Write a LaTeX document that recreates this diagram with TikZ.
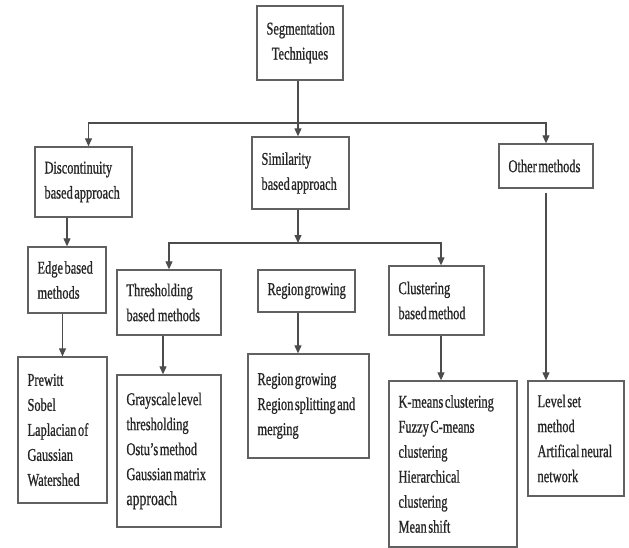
\documentclass[tikz,border=0pt]{standalone}
\usepackage{fontspec}
\setmainfont[FakeStretch=0.69, FakeBold=0.8, WordSpace=0.5]{Liberation Serif}
\usetikzlibrary{arrows.meta}
\newcommand\boxfont{\fontsize{18}{25}\selectfont
  \hyphenpenalty=10000\relax\exhyphenpenalty=10000\relax}
\begin{document}
\begin{tikzpicture}[x=1pt,y=-1pt,
  box/.style={draw=black!62, line width=1.3pt, fill=white, align=flush left,
    inner xsep=9.5pt, inner ysep=0pt, font=\boxfont, text=black!85},
  link/.style={draw=black!70, line width=1.1pt},
  arr/.style={link, -{Triangle[length=8pt,width=7pt]}}
]
\useasboundingbox (0,0) rectangle (629,548);

% top level
\node[box, align=flush center, text width=67pt, minimum height=74pt] (seg) at (300,43) {Segmentation\\Techniques};

% second level
\node[box, text width=78pt, minimum height=70pt] (disc) at (83.5,182) {Discontinuity\\based~approach};
\node[box, text width=78pt, minimum height=72pt] (sim) at (300.5,173) {Similarity\\based~approach};
\node[box, text width=75pt, minimum height=44pt] (other) at (546,166) {Other~methods};

% third level
\node[box, text width=59pt, minimum height=66pt] (edge) at (67,280) {Edge~based\\methods};
\node[box, text width=85pt, minimum height=65pt] (thr) at (169,302.5) {Thresholding\\based~~methods};
\node[box, text width=78pt, minimum height=42pt] (rg) at (306.5,291) {Region~growing};
\node[box, text width=76pt, minimum height=69pt] (clu) at (436.5,300.5) {Clustering\\based~method};

% leaves
\node[box, text width=70pt, minimum height=146pt] (prew) at (62.5,430) {Prewitt\\Sobel\\Laplacian~of\\Gaussian\\Watershed};
\node[box, text width=85pt, minimum height=152pt] (gray) at (169,451) {Grayscale~level\\thresholding\\Ostu’s~method\\Gaussian~matrix\\{\fontsize{20}{25}\selectfont approach}};
\node[box, text width=102pt, minimum height=104pt] (reg) at (308.5,406) {Region~growing\\Region~splitting~and\\merging\\[12pt]};
\node[box, text width=109pt, minimum height=166pt] (kmn) at (453,464) {K-means~clustering\\Fuzzy~C-means\\clustering\\Hierarchical\\clustering\\Mean~shift};
\node[box, text width=77pt, minimum height=115pt] (lvl) at (576,438.5) {Level~set\\method\\Artifical~neural\\network};

% bus lines
\coordinate (h1) at (0,123);
\coordinate (h2) at (0,243);
\coordinate (bus1) at ([xshift=-2pt]seg.south |- h1);
\coordinate (bus2) at ([xshift=-2.5pt]sim.south |- h2);

\draw[link] ([xshift=-2pt]seg.south) -- (bus1);
\draw[arr] (bus1) -- (bus1 |- sim.north);
\draw[arr] (bus1) -| ([xshift=5pt]disc.north);
\draw[arr] (bus1) -| (other.north);

\draw[arr] (edge.north |- disc.south) -- (edge.north);
\draw[arr] (prew.north |- edge.south) -- (prew.north);

\draw[arr] (bus2 |- sim.south) -- (bus2);
\draw[arr] (bus2) -| (thr.north);
\draw[arr] (bus2) -| ([xshift=4.5pt]clu.north);

\draw[arr] ([xshift=-6pt]thr.south) -- ([xshift=-6pt]gray.north);
\draw[arr] ([xshift=-8.5pt]rg.south) -- ([xshift=-8.5pt]rg.south |- reg.north);
\draw[arr] ([xshift=4.5pt]clu.south) -- ([xshift=4.5pt]clu.south |- kmn.north);
\draw[arr] ([yshift=-4pt]other.south) -- (other.south |- lvl.north);
\end{tikzpicture}
\end{document}
